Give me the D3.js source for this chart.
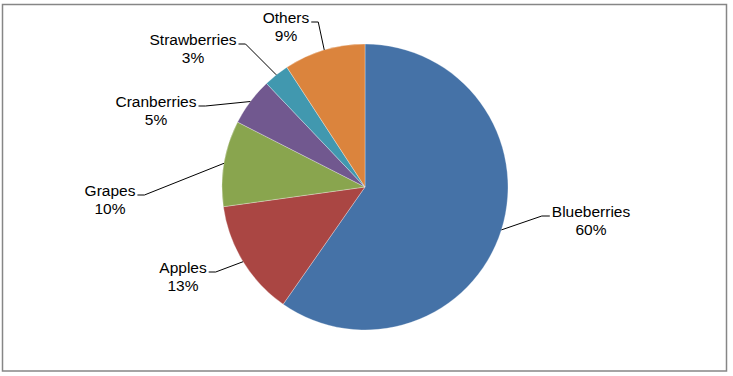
<!DOCTYPE html>
<html>
<head>
<meta charset="utf-8">
<script src="https://cdn.jsdelivr.net/npm/d3@7"></script>
<style>
  html, body { margin: 0; padding: 0; background: #fff; }
  svg { display: block; }
</style>
</head>
<body>
<div id="chart"></div>
<script>
// Fruit share pie chart
const fruits  = ["Blueberries", "Apples", "Grapes", "Cranberries", "Strawberries", "Others"];
const shares  = [59.7, 13.1, 9.7, 5.4, 2.9, 9.2];
const colors  = ["#4572A7", "#AA4643", "#89A54E", "#71588F", "#4198AF", "#DB843D"];

// label layout: text centre x, first baseline y, side of the leader
const labelPos = {
  Blueberries:  { x: 591, y: 217, side: "right" },
  Apples:       { x: 183, y: 273, side: "left" },
  Grapes:       { x: 110, y: 196, side: "left" },
  Cranberries:  { x: 156, y: 107, side: "left" },
  Strawberries: { x: 193, y: 45,  side: "left" },
  Others:       { x: 286, y: 23,  side: "left" }
};

const width = 733, height = 376;
const cx = 365, cy = 187, radius = 143;

const svg = d3.select("#chart").append("svg")
  .attr("width", width)
  .attr("height", height);

// outer frame
svg.append("rect")
  .attr("x", 2.5).attr("y", 4.5)
  .attr("width", 724).attr("height", 366.5)
  .attr("fill", "#fff")
  .attr("stroke", "#868686")
  .attr("stroke-width", 1.5);

const data = fruits.map((name, i) => ({ name, value: shares[i], color: colors[i] }));
const total = d3.sum(shares);

const pie = d3.pie().sort(null).value(d => d.value);
const arcs = pie(data);
const arc = d3.arc().innerRadius(0).outerRadius(radius);

const g = svg.append("g").attr("transform", `translate(${cx},${cy})`);

g.selectAll("path.slice")
  .data(arcs)
  .join("path")
  .attr("class", "slice")
  .attr("d", arc)
  .attr("fill", d => d.data.color)
  .attr("stroke", "#fff")
  .attr("stroke-width", 0.5)
  .attr("stroke-opacity", 0.6);

// labels + leader lines
const font = "'Liberation Sans', Arial, sans-serif";
arcs.forEach(d => {
  const p = labelPos[d.data.name];
  const t = svg.append("text")
    .attr("x", p.x).attr("y", p.y)
    .attr("text-anchor", "middle")
    .style("font-family", font)
    .style("font-size", "15.5px")
    .style("fill", "#000");
  t.append("tspan").attr("x", p.x).text(d.data.name);
  t.append("tspan").attr("x", p.x).attr("dy", 17.5)
    .text(Math.round(d.data.value / total * 100) + "%");

  const w = t.select("tspan").node().getComputedTextLength();
  const mid = (d.startAngle + d.endAngle) / 2;
  const ex = cx + radius * Math.sin(mid);
  const ey = cy - radius * Math.cos(mid);
  const ly = p.y - 1;
  let x0, x1;
  if (p.side === "left") {
    x0 = p.x + w / 2 + 2;
    x1 = x0 + 7;
  } else {
    x0 = p.x - w / 2 - 2;
    x1 = x0 - 8;
  }
  svg.append("path")
    .attr("d", d3.line()([[x0, ly], [x1, ly], [ex, ey]]))
    .attr("fill", "none")
    .attr("stroke", "#000")
    .attr("stroke-width", 1);
});
</script>
</body>
</html>
